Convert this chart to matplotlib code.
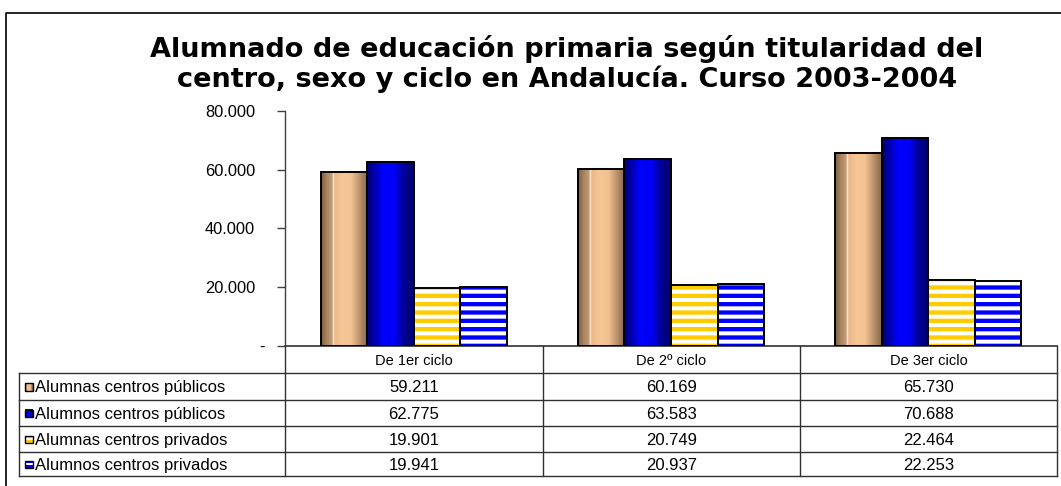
import numpy as np
import matplotlib
matplotlib.use("Agg")
import matplotlib.pyplot as plt
from matplotlib.patches import Rectangle
from matplotlib.transforms import ScaledTranslation

plt.rcParams['font.family'] = ['Liberation Sans', 'DejaVu Sans']
plt.rcParams['hatch.linewidth'] = 3.1

# ---------------- data ----------------
title_lines = ["Alumnado de educación primaria según titularidad del",
               "centro, sexo y ciclo en Andalucía. Curso 2003-2004"]
categories = ["De 1er ciclo", "De 2º ciclo", "De 3er ciclo"]
series_names = ["Alumnas centros públicos", "Alumnos centros públicos",
                "Alumnas centros privados", "Alumnos centros privados"]
alumnas_publicos = [59211, 60169, 65730]
alumnos_publicos = [62775, 63583, 70688]
alumnas_privados = [19901, 20749, 22464]
alumnos_privados = [19941, 20937, 22253]
yticks = [0, 20000, 40000, 60000, 80000]
ytick_labels = ["-", "20.000", "40.000", "60.000", "80.000"]

series_values = [alumnas_publicos, alumnos_publicos, alumnas_privados, alumnos_privados]

W, H = 1061, 486
fig = plt.figure(figsize=(W / 100, H / 100), dpi=100)
fig.patch.set_facecolor("white")

# overlay axes in pixel coordinates (frame + table)
ov = fig.add_axes([0, 0, 1, 1], zorder=0)
ov.set_xlim(0, W)
ov.set_ylim(H, 0)
ov.axis("off")

# main plotting axes
ax_left, ax_right, ax_top, ax_bottom = 285, 1057, 111, 346
ax = fig.add_axes([ax_left / W, (H - ax_bottom) / H,
                   (ax_right - ax_left) / W, (ax_bottom - ax_top) / H], zorder=2)
ax.patch.set_alpha(0)

x = np.arange(len(categories))
bw = 0.181
offsets = [-1.5 * bw, -0.5 * bw, 0.5 * bw, 1.5 * bw]


def gradient_image(stops):
    pos = np.array([s[0] for s in stops])
    cols = np.array([s[1] for s in stops], dtype=float) / 255.0
    xs = np.linspace(0, 1, 200)
    img = np.stack([np.interp(xs, pos, cols[:, c]) for c in range(3)], axis=-1)
    return img[np.newaxis, :, :]


tan_grad = gradient_image([(0.0, (0x7C, 0x5E, 0x44)), (0.12, (0xA8, 0x84, 0x60)),
                           (0.24, (0xC4, 0x9C, 0x74)), (0.26, (0xFF, 0xF4, 0xE8)),
                           (0.29, (0xE8, 0xB8, 0x8A)), (0.45, (0xF6, 0xC6, 0x94)),
                           (0.65, (0xF2, 0xC2, 0x90)), (0.85, (0xB4, 0x8C, 0x66)),
                           (1.0, (0x84, 0x66, 0x4A))])
blue_grad = gradient_image([(0.0, (0x00, 0x00, 0x70)), (0.18, (0x00, 0x00, 0xB8)),
                            (0.35, (0x00, 0x00, 0xFF)), (0.6, (0x00, 0x00, 0xF4)),
                            (0.78, (0x00, 0x00, 0x98)), (1.0, (0x00, 0x00, 0x6C))])

# solid gradient bars
for vals, off, grad in [(alumnas_publicos, offsets[0], tan_grad),
                        (alumnos_publicos, offsets[1], blue_grad)]:
    bars = ax.bar(x + off, vals, width=bw, color="none", edgecolor="black",
                  linewidth=1.4, zorder=3)
    for p in bars.patches:
        x0, y0 = p.get_x(), p.get_y()
        ax.imshow(grad, extent=[x0, x0 + p.get_width(), y0, y0 + p.get_height()],
                  aspect="auto", zorder=2, interpolation="bilinear")

# striped bars
for vals, off, stripe in [(alumnas_privados, offsets[2], "#FFCC00"),
                          (alumnos_privados, offsets[3], "#0000FF")]:
    ax.bar(x + off, vals, width=bw, color="white", edgecolor=stripe,
           hatch="--", linewidth=0, zorder=2)
    ax.bar(x + off, vals, width=bw, color="none", edgecolor="black",
           linewidth=1.4, zorder=3)

ax.set_xlim(-0.5, len(categories) - 0.5)
ax.set_ylim(0, 80000)
ax.set_xticks([])
ax.set_yticks(yticks)
ax.set_yticklabels(ytick_labels)
ax.tick_params(axis="y", direction="out", length=6, width=1, pad=15.5,
               labelsize=11.8, color="#404040")
off_t = ScaledTranslation(10 / 100, 0, fig.dpi_scale_trans)
for lab in ax.get_yticklabels():
    if lab.get_text() == "-":
        lab.set_transform(lab.get_transform() + off_t)
for s in ["top", "right", "bottom"]:
    ax.spines[s].set_visible(False)
ax.spines["left"].set_color("#404040")
ax.spines["left"].set_linewidth(1)

# title
for txt, yb in zip(title_lines, [57, 87]):
    ov.text(567, yb, txt, ha="center", va="baseline", fontsize=19.5,
            fontweight="bold", family=["DejaVu Sans"])

# outer frame (left and top)
ov.plot([6, 6, W + 5], [H + 5, 13, 13], color="black", lw=1.2, clip_on=False)

# ---------------- data table ----------------
col_edges = [285, 543, 800, 1057]
row_edges = [346, 373, 400, 426, 452, 476]
tbl_left = 19
lc = "#303030"
ov.plot([ax_left, 1057], [row_edges[0]] * 2, color=lc, lw=1.2)
for yy in row_edges[1:]:
    ov.plot([tbl_left, 1057], [yy, yy], color=lc, lw=1.0)
for xx in col_edges:
    ov.plot([xx, xx], [row_edges[0], row_edges[-1]], color=lc, lw=1.0)
ov.plot([tbl_left, tbl_left], [row_edges[1], row_edges[-1]], color=lc, lw=1.0)

for i, cat in enumerate(categories):
    cx = (col_edges[i] + col_edges[i + 1]) / 2
    ov.text(cx, (row_edges[0] + row_edges[1]) / 2 + 1, cat, ha="center",
            va="center", fontsize=10.5)


def fmt(v):
    return f"{v:,}".replace(",", ".")


key_colors = [None, None, "#FFCC00", "#0000FF"]
for r, (name, vals) in enumerate(zip(series_names, series_values)):
    cy = (row_edges[r + 1] + row_edges[r + 2]) / 2
    for i, v in enumerate(vals):
        cx = (col_edges[i] + col_edges[i + 1]) / 2
        ov.text(cx, cy + 1, fmt(v), ha="center", va="center", fontsize=12)
    ov.text(35, cy + 1, name, ha="left", va="center", fontsize=12)
    kx, ky, ks = 25, cy - 3.5, 7.5
    if r == 0:
        ov.imshow(tan_grad, extent=[kx, kx + ks, ky + ks, ky], aspect="auto",
                  interpolation="bilinear", zorder=2)
    elif r == 1:
        ov.imshow(blue_grad, extent=[kx, kx + ks, ky + ks, ky], aspect="auto",
                  interpolation="bilinear", zorder=2)
    else:
        ov.add_patch(Rectangle((kx, ky), ks, ks, facecolor=key_colors[r],
                               edgecolor="none", zorder=2))
        ov.add_patch(Rectangle((kx, ky + ks * 0.35), ks, ks * 0.3,
                               facecolor="white", edgecolor="none", zorder=2))
    ov.add_patch(Rectangle((kx, ky), ks, ks, facecolor="none", edgecolor="black",
                           lw=1.0, zorder=3))

ov.set_xlim(0, W)
ov.set_ylim(H, 0)

fig.savefig("out.png", dpi=100, facecolor="white")
